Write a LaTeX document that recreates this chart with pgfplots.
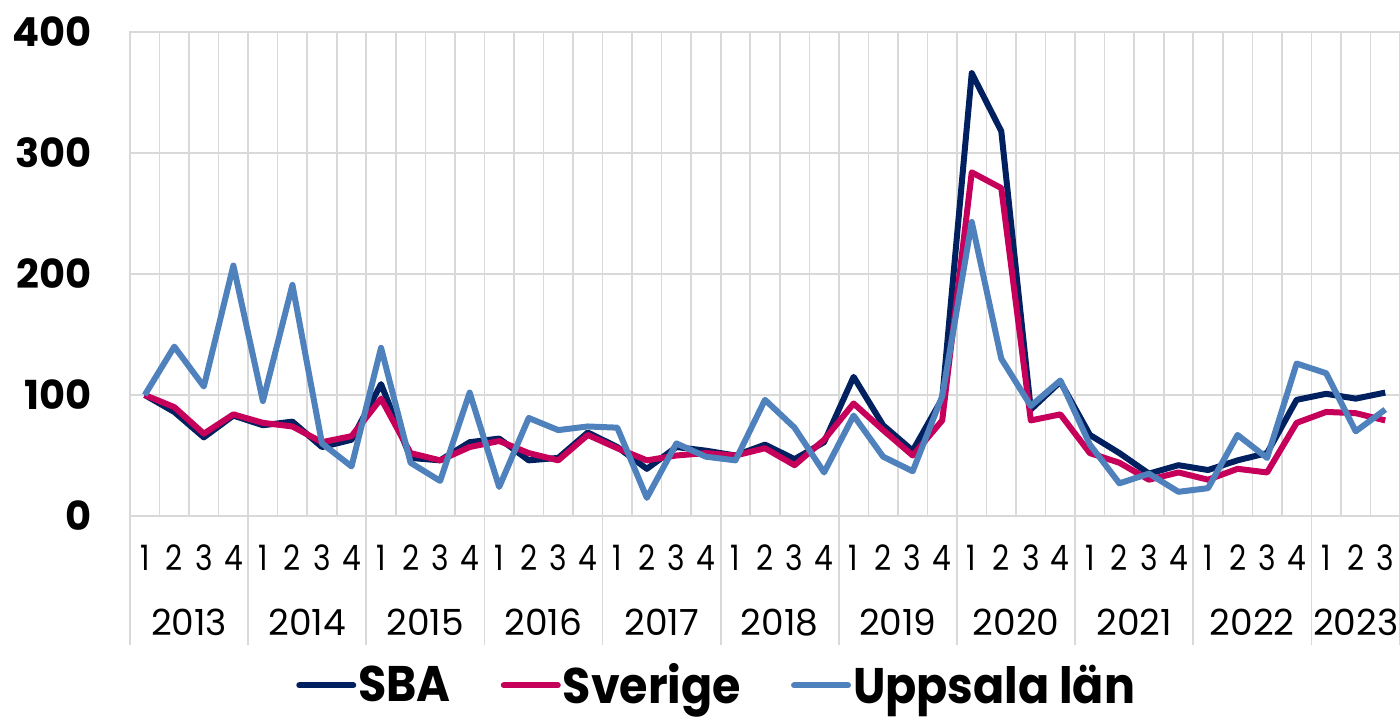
\documentclass[border=0pt]{standalone}
\usepackage{fontspec}
\setmainfont{Poppins}
\newfontfamily\qfont[FakeStretch=0.85]{Poppins}
\newfontfamily\legfont[FakeStretch=0.92]{Poppins}
\usepackage{pgfplots}
\pgfplotsset{compat=1.18}
\usepackage{pgfplotstable}
\definecolor{sbacol}{HTML}{002060}
\definecolor{svecol}{HTML}{C6005A}
\definecolor{uppcol}{HTML}{4F81BD}
\definecolor{gridgray}{HTML}{D9D9D9}

\pgfplotstableread{
i sba sve upp
0 100 100 100
1 86 90 140
2 65 68 107
3 83 84 207
4 75 77 95
5 78 74 191
6 57 61 60
7 63 66 41
8 109 97 139
9 48 52 44
10 46 46 29
11 61 57 102
12 64 62 24
13 46 52 81
14 48 46 71
15 69 67 74
16 57 56 73
17 39 46 15
18 57 50 60
19 54 52 49
20 50 50 46
21 59 56 96
22 47 42 73
23 61 63 36
24 115 93 83
25 75 71 49
26 54 50 37
27 97 79 99
28 366 284 243
29 318 271 130
30 88 79 91
31 111 84 112
32 67 52 59
33 52 44 27
34 35 30 35
35 42 36 20
36 38 30 23
37 46 39 67
38 52 36 48
39 96 77 126
40 101 86 118
41 97 85 70
42 102 79 88
}\data

\begin{document}
\begin{tikzpicture}
\path[use as bounding box] (-65pt,-104pt) rectangle (635pt,258pt);
\begin{axis}[
  at={(0,0)}, anchor=south west,
  width=635pt, height=242pt, scale only axis,
  xmin=-0.5, xmax=42.5, ymin=0, ymax=400,
  xtick={0,...,42},
  xticklabels={1,2,3,4,1,2,3,4,1,2,3,4,1,2,3,4,1,2,3,4,1,2,3,4,1,2,3,4,1,2,3,4,1,2,3,4,1,2,3,4,1,2,3},
  minor xtick={-0.5,0.5,...,42.5},
  xminorgrids, xmajorgrids=false,
  ytick={0,100,...,400},
  ymajorgrids,
  major tick length=0pt, minor tick length=0pt,
  grid style={draw=gridgray, line width=0.8pt},
  minor grid style={draw=gridgray, line width=0.8pt},
  axis line style={draw=gridgray, line width=0.8pt},
  /pgf/number format/assume math mode=true,
  yticklabel style={font=\fontsize{20}{24}\selectfont\bfseries, anchor=east, inner sep=0pt, xshift=-19pt},
  xticklabel style={font=\qfont\fontsize{17.5}{20}\selectfont, anchor=base, inner sep=0pt, yshift=-27pt},
  clip=false,
  legend columns=3,
  legend image code/.code={\draw[#1, line width=3pt, line cap=round] (0pt,0pt) -- (27pt,0pt);},
  legend style={at={(0.462,-0.35)}, anchor=center, draw=none, fill=none,
    inner sep=0pt, nodes={inner sep=1pt},
    font=\legfont\fontsize{25}{28}\selectfont\bfseries,
    /tikz/every even column/.append style={column sep=24pt}},
]
\addplot[color=sbacol, line width=3pt, line join=round, mark=none] table[x=i,y=sba]{\data};
\addlegendentry{SBA}
\addplot[color=svecol, line width=3pt, line join=round, mark=none] table[x=i,y=sve]{\data};
\addlegendentry{Sverige}
\addplot[color=uppcol, line width=3pt, line join=round, mark=none] table[x=i,y=upp]{\data};
\addlegendentry{Uppsala län}

\pgfplotsinvokeforeach{-0.5,3.5,7.5,11.5,15.5,19.5,23.5,27.5,31.5,35.5,39.5,42.5}{
  \draw[gridgray, line width=0.8pt] (axis cs:#1,0) -- ++(0pt,-64.5pt);
}
\tikzset{yearlab/.style={font=\fontsize{18}{20}\selectfont, anchor=base, inner sep=0pt, yshift=-59.5pt}}
\node[yearlab] at (axis cs:1.5,0) {2013};
\node[yearlab] at (axis cs:5.5,0) {2014};
\node[yearlab] at (axis cs:9.5,0) {2015};
\node[yearlab] at (axis cs:13.5,0) {2016};
\node[yearlab] at (axis cs:17.5,0) {2017};
\node[yearlab] at (axis cs:21.5,0) {2018};
\node[yearlab] at (axis cs:25.5,0) {2019};
\node[yearlab] at (axis cs:29.5,0) {2020};
\node[yearlab] at (axis cs:33.5,0) {2021};
\node[yearlab] at (axis cs:37.5,0) {2022};
\node[yearlab] at (axis cs:41,0) {2023};
\end{axis}
\end{tikzpicture}
\end{document}
